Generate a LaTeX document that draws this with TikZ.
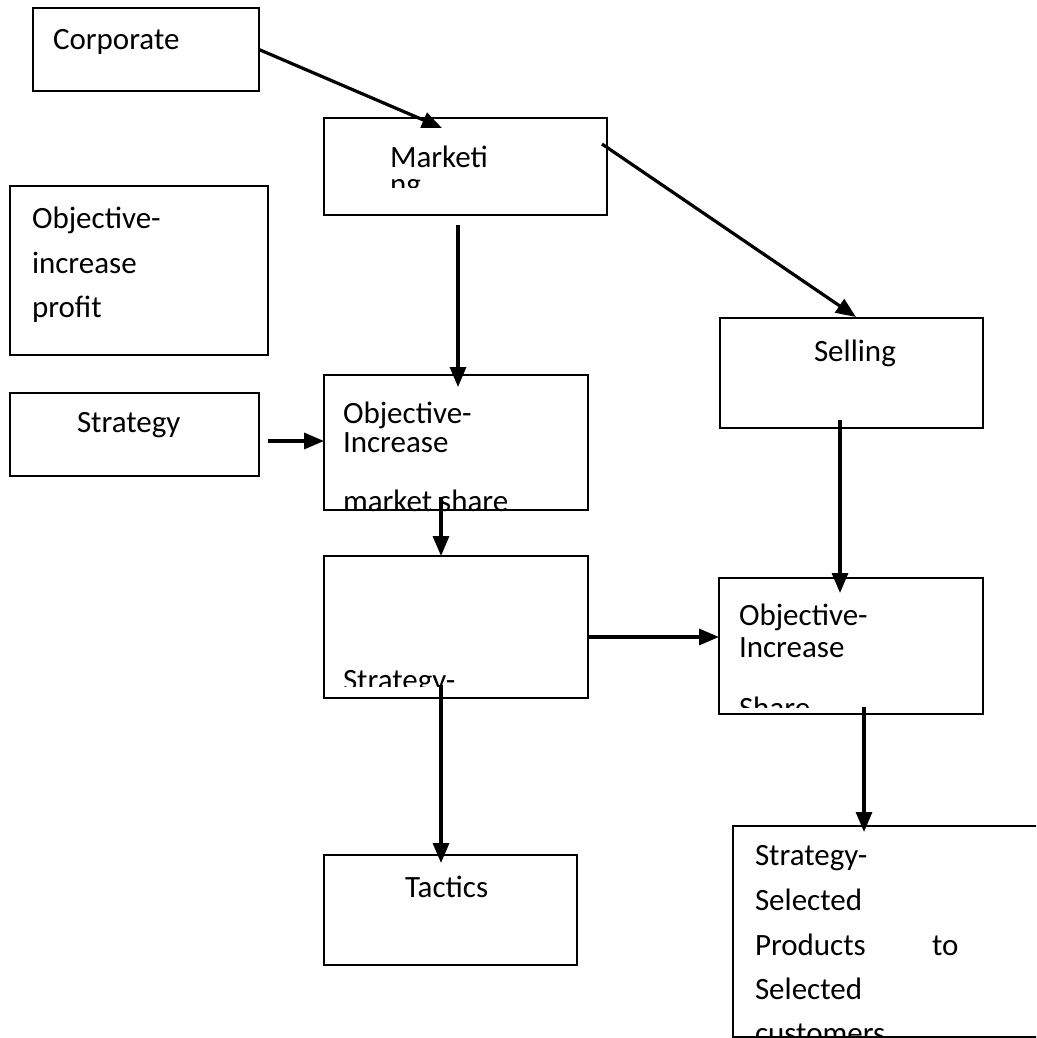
\documentclass[tikz,border=0pt]{standalone}
\usepackage{fontspec}
\setmainfont{Carlito}
\usetikzlibrary{arrows.meta,calc,fit}
\newcommand\fsz{\fontsize{31}{37}\selectfont}
\tikzset{
  box/.style={draw=black, line width=2.2pt, inner sep=0pt, outer sep=0pt, rectangle},
  tx/.style={anchor=base west, inner sep=0pt, outer sep=0pt, font=\fsz},
  arr/.style={line width=3.2pt, -{Triangle[length=20pt,width=16pt]}}
}
\begin{document}
\begin{tikzpicture}[x=1pt,y=-1pt]
\useasboundingbox (0,0) rectangle (1036,1038);
\fill[white] (0,0) rectangle (1036,1038);
\clip (0,0) rectangle (1036,1038);

% boxes
\node[box, fit={(33,8)(259,91)}] (corp) {};
\node[box, fit={(324,118)(607,215)}] (mkt) {};
\node[box, fit={(10,186)(268,355)}] (objp) {};
\node[box, fit={(10,393)(259,476)}] (strat) {};
\node[box, fit={(324,375)(588,510)}] (objm) {};
\node[box, fit={(324,556)(588,698)}] (strm) {};
\node[box, fit={(720,318)(983,428)}] (sell) {};
\node[box, fit={(719,578)(983,714)}] (objs) {};
\node[box, fit={(324,855)(577,965)}] (tact) {};
\node[box, fit={(733,826)(1045,1037)}] (sel) {};

% texts
\node[tx] (tcorp) at (53,50) {Corporate};

\begin{scope}
\clip (324,118) rectangle (607,187);
\node[tx] (tmkt1) at (390,167) {Marketi};
\node[tx] (tmkt2) at (390,194) {ng};
\end{scope}

\node[tx] (tobjp1) at (32,228) {Objective-};
\node[tx] (tobjp2) at (32,273) {increase};
\node[tx] (tobjp3) at (32,317) {profit};

\node[tx] (tstrat) at (77,432) {Strategy};

\node[tx] (tobjm1) at (343,423) {Objective-};
\node[tx] (tobjm2) at (343,452) {Increase};
\begin{scope}
\clip (324,440) rectangle (600,513);
\node[tx] (tobjm3) at (343,511) {market share};
\end{scope}

\begin{scope}
\clip (324,600) rectangle (588,686);
\node[tx] (tstrm) at (343,690) {Strategy-};
\end{scope}

\node[tx] (tsell) at (814,361) {Selling};

\node[tx] (tobjs1) at (739,625) {Objective-};
\node[tx] (tobjs2) at (739,657) {Increase};
\begin{scope}
\clip (719,660) rectangle (983,707);
\node[tx] (tobjs3) at (739,718) {Share};
\end{scope}

\node[tx] (ttact) at (405,897) {Tactics};

\node[tx] (tsel1) at (755,865) {Strategy-};
\node[tx] (tsel2) at (755,910) {Selected};
\node[tx] (tsel3) at (755,955) {Products};
\node[tx] (tsel4) at (932,955) {to};
\node[tx] (tsel5) at (755,999) {Selected};
\begin{scope}
\clip (733,1000) rectangle (1036,1036);
\node[tx] (tsel6) at (755,1043) {customers};
\end{scope}

% connectors
\draw[arr] (corp.east) -- ($(mkt.north west)+(118,10)$);
\draw[arr] ($(mkt.north east)+(-5,26)$) -- ($(sell.north west)+(136,-1)$);
\draw[arr] ($(mkt.south west)+(134,10)$) -- ($(objm.north west)+(134,12)$);
\draw[arr] ($(strat.east)+(9,6.5)$) -- ($(objm.west)+(0,-1.5)$);
\draw[arr] ($(objm.south west)+(117,-13)$) -- ($(strm.north west)+(117,0)$);
\draw[arr] ($(strm.east)+(0,10)$) -- ($(objs.west)+(0,-9)$);
\draw[arr] ($(sell.south west)+(120,-8)$) -- ($(objs.north west)+(121,15)$);
\draw[arr] ($(strm.south west)+(117,-13)$) -- ($(tact.north west)+(117,8)$);
\draw[arr] ($(objs.south west)+(145,-7)$) -- ($(sel.north west)+(131,6)$);
\end{tikzpicture}
\end{document}
